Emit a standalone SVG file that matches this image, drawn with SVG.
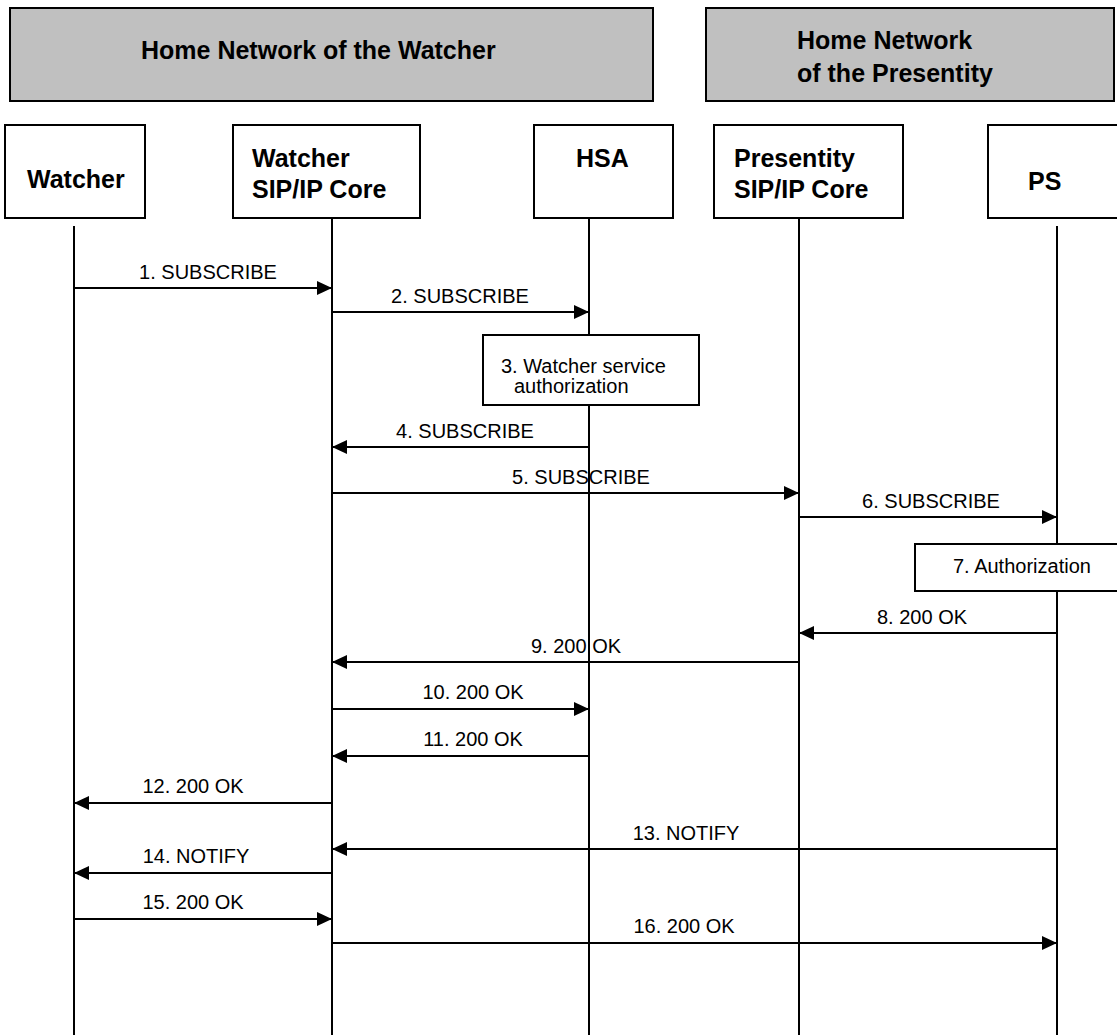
<svg xmlns="http://www.w3.org/2000/svg" width="1117" height="1035" viewBox="0 0 1117 1035">
<style>
.net{fill:#c0c0c0;stroke:#000;stroke-width:2}
.box{fill:#fff;stroke:#000;stroke-width:2}
.t{font-family:"Liberation Sans",Arial,sans-serif;font-weight:bold;font-size:25px;fill:#000}
.l{font-family:"Liberation Sans",Arial,sans-serif;font-size:20px;fill:#000}
.life{stroke:#000;stroke-width:2}
.msg{stroke:#000;stroke-width:2;fill:none;marker-end:url(#ah)}
</style>
<defs>
<marker id="ah" markerWidth="16" markerHeight="14" refX="15" refY="7" orient="auto" markerUnits="userSpaceOnUse">
<path d="M0,0 L15,7 L0,14 Z" fill="#000"/>
</marker>
</defs>
<rect width="1117" height="1035" fill="#fff"/>
<g id="net-watcher"><rect class="net" x="10" y="8" width="643" height="93"/><text class="t" x="141" y="59">Home Network of the Watcher</text></g>
<g id="net-presentity"><rect class="net" x="706" y="8" width="408" height="93"/><text class="t" x="797" y="49">Home Network</text><text class="t" x="797" y="82">of the Presentity</text></g>
<g id="lifelines">
<line class="life" x1="74" y1="226" x2="74" y2="1035"/>
<line class="life" x1="332" y1="218" x2="332" y2="1035"/>
<line class="life" x1="589" y1="218" x2="589" y2="1035"/>
<line class="life" x1="799" y1="218" x2="799" y2="1035"/>
<line class="life" x1="1057" y1="226" x2="1057" y2="1035"/>
</g>
<g id="watcher"><rect class="box" x="5" y="125" width="140" height="93"/><text class="t" x="27" y="188">Watcher</text></g>
<g id="watcher-core"><rect class="box" x="233" y="125" width="187" height="93"/><text class="t" x="252" y="167">Watcher</text><text class="t" x="252" y="198">SIP/IP Core</text></g>
<g id="hsa"><rect class="box" x="534" y="125" width="139" height="93"/><text class="t" x="576" y="167">HSA</text></g>
<g id="presentity-core"><rect class="box" x="714" y="125" width="189" height="93"/><text class="t" x="734" y="167">Presentity</text><text class="t" x="734" y="198">SIP/IP Core</text></g>
<g id="ps"><rect class="box" x="988" y="125" width="135" height="93"/><text class="t" x="1028" y="190">PS</text></g>
<g id="step3"><rect class="box" x="483" y="335" width="216" height="70"/><text class="l" x="501" y="373">3. Watcher service</text><text class="l" x="514" y="393">authorization</text></g>
<g id="step7"><rect class="box" x="915" y="544" width="210" height="47"/><text class="l" x="953" y="573">7. Authorization</text></g>
<g id="connectors">
<line class="msg" x1="74" y1="288" x2="332" y2="288"/>
<line class="msg" x1="332" y1="312" x2="589" y2="312"/>
<line class="msg" x1="589" y1="447" x2="332" y2="447"/>
<line class="msg" x1="332" y1="493" x2="799" y2="493"/>
<line class="msg" x1="799" y1="517" x2="1057" y2="517"/>
<line class="msg" x1="1057" y1="633" x2="799" y2="633"/>
<line class="msg" x1="799" y1="662" x2="332" y2="662"/>
<line class="msg" x1="332" y1="709" x2="589" y2="709"/>
<line class="msg" x1="589" y1="756" x2="332" y2="756"/>
<line class="msg" x1="332" y1="803" x2="74" y2="803"/>
<line class="msg" x1="1057" y1="849" x2="332" y2="849"/>
<line class="msg" x1="332" y1="873" x2="74" y2="873"/>
<line class="msg" x1="74" y1="919" x2="332" y2="919"/>
<line class="msg" x1="332" y1="943" x2="1057" y2="943"/>
</g>
<g id="labels">
<text class="l" x="208" y="279" text-anchor="middle">1. SUBSCRIBE</text>
<text class="l" x="460" y="303" text-anchor="middle">2. SUBSCRIBE</text>
<text class="l" x="465" y="438" text-anchor="middle">4. SUBSCRIBE</text>
<text class="l" x="581" y="484" text-anchor="middle">5. SUBSCRIBE</text>
<text class="l" x="931" y="508" text-anchor="middle">6. SUBSCRIBE</text>
<text class="l" x="922" y="624" text-anchor="middle">8. 200 OK</text>
<text class="l" x="576" y="653" text-anchor="middle">9. 200 OK</text>
<text class="l" x="473" y="699" text-anchor="middle">10. 200 OK</text>
<text class="l" x="473" y="746" text-anchor="middle">11. 200 OK</text>
<text class="l" x="193" y="793" text-anchor="middle">12. 200 OK</text>
<text class="l" x="686" y="840" text-anchor="middle">13. NOTIFY</text>
<text class="l" x="196" y="863" text-anchor="middle">14. NOTIFY</text>
<text class="l" x="193" y="909" text-anchor="middle">15. 200 OK</text>
<text class="l" x="684" y="933" text-anchor="middle">16. 200 OK</text>
</g>
</svg>
